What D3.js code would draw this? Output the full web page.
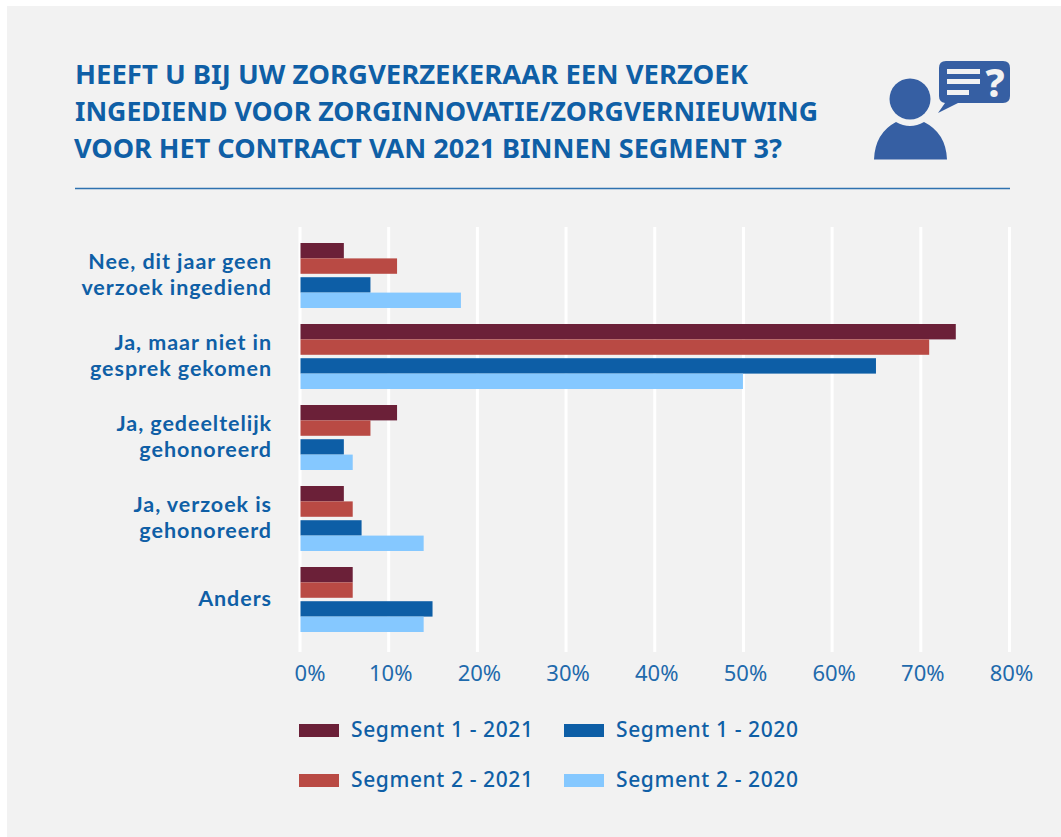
<!DOCTYPE html>
<html>
<head>
<meta charset="utf-8">
<script src="https://cdnjs.cloudflare.com/ajax/libs/d3/7.8.5/d3.min.js"></script>
<style>
body { margin: 0; background: #fff; }
text { font-family: "Noto Sans", "Open Sans", sans-serif; fill: #0f5fa6; }
.title { font-weight: 700; font-size: 27px; }
text.cat { font-family: Lato, "Noto Sans", sans-serif; font-weight: 700; font-size: 21.5px; letter-spacing: .95px; text-anchor: end; }
.tick text { font-size: 22px; fill: #1f6aac; }
.legend { font-weight: 500; font-size: 21px; letter-spacing: .6px; }
</style>
</head>
<body>
<div id="chart"></div>
<script>
// waarden
const categories = [
    ["Nee, dit jaar geen", "verzoek ingediend"],
    ["Ja, maar niet in", "gesprek gekomen"],
    ["Ja, gedeeltelijk", "gehonoreerd"],
    ["Ja, verzoek is", "gehonoreerd"],
    ["Anders"]
];
const seg1_2021 = [5, 74, 11, 5, 6];
const seg2_2021 = [11, 71, 8, 6, 6];
const seg1_2020 = [8, 65, 5, 7, 15];
const seg2_2020 = [18.2, 50, 6, 14, 14];
const xTicks = [0, 10, 20, 30, 40, 50, 60, 70, 80];
const titleLines = [
    "HEEFT U BIJ UW ZORGVERZEKERAAR EEN VERZOEK",
    "INGEDIEND VOOR ZORGINNOVATIE/ZORGVERNIEUWING",
    "VOOR HET CONTRACT VAN 2021 BINNEN SEGMENT 3?"
];
const titleWidths = [673, 743, 708];

const series = [
    {name: "Segment 1 - 2021", values: seg1_2021, year: "2021", seg: "1", color: "#6b2038"},
    {name: "Segment 2 - 2021", values: seg2_2021, year: "2021", seg: "2", color: "#b94a44"},
    {name: "Segment 1 - 2020", values: seg1_2020, year: "2020", seg: "1", color: "#0d5ea6"},
    {name: "Segment 2 - 2020", values: seg2_2020, year: "2020", seg: "2", color: "#85c8ff"}
];

const width = 1061, height = 837;
const svg = d3.select("#chart").append("svg")
    .attr("width", width)
    .attr("height", height)
    .style("display", "block");

// grijs vlak
svg.append("rect")
    .attr("x", 7).attr("y", 6)
    .attr("width", width - 7).attr("height", height - 6)
    .attr("fill", "#f2f2f2");

// titel, smaller gezet omdat het originele font condensed is
svg.selectAll(".title").data(titleLines).enter()
    .append("text")
    .attr("class", "title")
    .attr("x", (d, i) => i == 2 ? 74 : 75)
    .attr("y", (d, i) => 84 + i * 37)
    .attr("textLength", (d, i) => titleWidths[i])
    .attr("lengthAdjust", "spacingAndGlyphs")
    .text(d => d);

svg.append("line")
    .attr("x1", 75).attr("x2", 1010)
    .attr("y1", 188.5).attr("y2", 188.5)
    .attr("stroke", "#2f72b0")
    .attr("stroke-width", 1.5);

// icoon
const icon = svg.append("g").attr("fill", "#365fa3");
icon.append("circle").attr("cx", 910).attr("cy", 99).attr("r", 20.5);
icon.append("path").attr("d", "M896 122 Q910 130 924 122 Q946 133 947 159.5 L874 159.5 Q875 133 896 122 Z");
icon.append("path").attr("d", "M946 61 L1003 61 Q1010 61 1010 68 L1010 96 Q1010 103 1003 103 L958 103 L938 113 L945 103 Q939 102 939 96 L939 68 Q939 61 946 61 Z");
const iconBars = [[947, 69, 33], [947, 79, 33], [947, 90, 22]];
icon.selectAll(".b").data(iconBars).enter().append("rect")
    .attr("x", d => d[0]).attr("y", d => d[1])
    .attr("width", d => d[2]).attr("height", 5)
    .attr("fill", "#f2f2f2");
svg.append("text")
    .attr("x", 995).attr("y", 97)
    .attr("text-anchor", "middle")
    .style("font-size", "39px")
    .style("font-weight", 800)
    .style("fill", "#f2f2f2")
    .text("?");

// schalen
const x = d3.scaleLinear().domain([0, 80]).range([299.5, 1009]);
const y0 = d3.scaleBand().domain(d3.range(categories.length)).range([235, 640]);
const yYear = d3.scaleBand().domain(["2021", "2020"]).range([8, 73]).paddingInner(0.1);
const ySeg = d3.scaleBand().domain(["1", "2"]).range([0, yYear.bandwidth()]);

// grid + as
const axis = svg.append("g")
    .attr("transform", "translate(0,652)")
    .call(d3.axisBottom(x).tickValues(xTicks).tickFormat(d => d + "%").tickSize(-425).tickPadding(13));
axis.select(".domain").remove();
axis.selectAll(".tick line").attr("stroke", "#fff").attr("stroke-width", 3);
axis.selectAll(".tick text").attr("dx", d => d == 0 ? 10 : 2);

// balken
series.forEach(function(s) {
    svg.append("g").selectAll("rect").data(s.values).enter()
        .append("rect")
        .attr("x", x(0) + 1)
        .attr("y", (d, i) => y0(i) + yYear(s.year) + ySeg(s.seg))
        .attr("width", d => x(d) - x(0) - 1)
        .attr("height", ySeg.bandwidth())
        .attr("fill", s.color);
});

// categorielabels, meerdere regels als tspans in een text
categories.forEach(function(c, i) {
    const mid = y0(i) + y0.bandwidth() / 2;
    const label = svg.append("text")
        .attr("class", "cat")
        .attr("y", mid - (c.length - 1) * 13 + 6);
    c.forEach(function(line, j) {
        label.append("tspan")
            .attr("x", 272)
            .attr("dy", j == 0 ? 0 : 26)
            .text(line);
    });
});

// legenda
const legendPos = [[299, 730], [299, 780], [564, 730], [564, 780]];
series.forEach(function(s, i) {
    const p = legendPos[i];
    svg.append("rect")
        .attr("x", p[0]).attr("y", p[1] - 6)
        .attr("width", 40).attr("height", 13)
        .attr("fill", s.color);
    svg.append("text")
        .attr("class", "legend")
        .attr("x", p[0] + 52).attr("y", p[1] + 7)
        .text(s.name);
});
</script>
</body>
</html>
